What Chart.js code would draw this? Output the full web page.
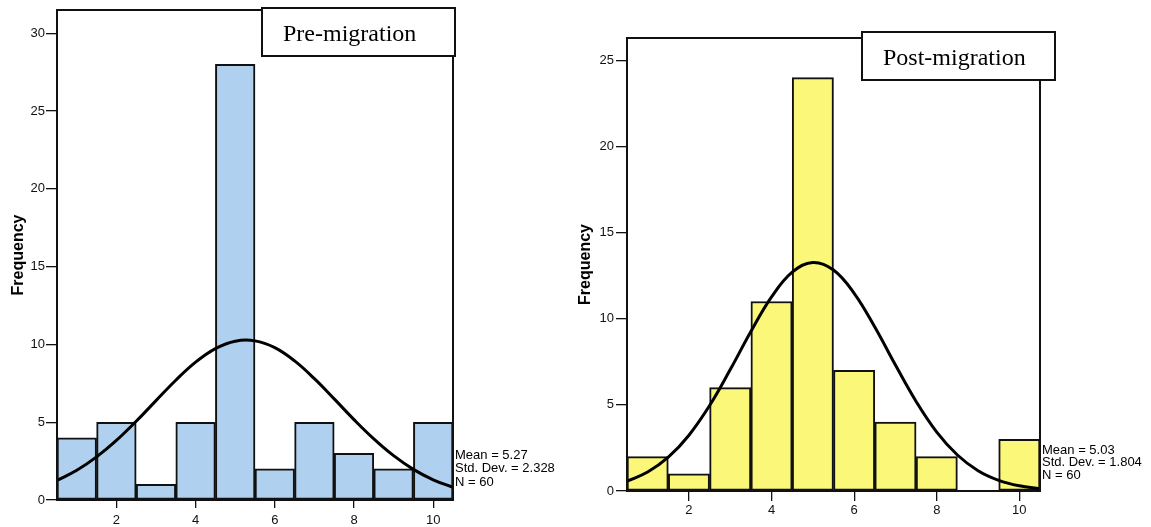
<!DOCTYPE html>
<html>
<head>
<meta charset="utf-8">
<script src="https://cdn.jsdelivr.net/npm/chart.js@4"></script>
<style>
  body { margin: 0; background: #fff; }
  canvas { position: absolute; top: 0; }
</style>
</head>
<body>
<canvas id="preChart" width="560" height="527" style="left:0"></canvas>
<canvas id="postChart" width="591" height="527" style="left:560px"></canvas>
<script>
// histogram bins (width 1, centred on 1..10)
const binCenters = [1, 2, 3, 4, 5, 6, 7, 8, 9, 10];
const preFreq = [4, 5, 1, 5, 28, 2, 5, 3, 2, 5];
const postFreq = [2, 1, 6, 11, 24, 7, 4, 2, 0, 3];

// normal curve every half unit
const curveX = [0.5, 1, 1.5, 2, 2.5, 3, 3.5, 4, 4.5, 5, 5.5, 6, 6.5, 7, 7.5, 8, 8.5, 9, 9.5, 10, 10.5];
const preCurve = [1.26, 1.91, 2.77, 3.83, 5.06, 6.39, 7.7, 8.86, 9.73, 10.21, 10.23, 9.79, 8.94, 7.8, 6.5, 5.17, 3.93, 2.85, 1.97, 1.3, 0.82];
const postCurve = [0.57, 1.1, 1.96, 3.24, 4.96, 7.05, 9.26, 11.27, 12.71, 13.27, 12.83, 11.48, 9.52, 7.31, 5.2, 3.42, 2.09, 1.18, 0.62, 0.3, 0.13];

const xTicks = [2, 4, 6, 8, 10];
const preYTicks = [0, 5, 10, 15, 20, 25, 30];
const postYTicks = [0, 5, 10, 15, 20, 25];

const preStats = ['Mean = 5.27', 'Std. Dev. = 2.328', 'N = 60'];
const postStats = ['Mean = 5.03', 'Std. Dev. = 1.804', 'N = 60'];

const sans = '"Liberation Sans", Arial, sans-serif';
const serif = '"Liberation Serif", "Times New Roman", serif';

// frame round the plot, title box and the stats note
const framePlugin = {
  id: 'frame',
  afterDatasetsDraw(chart) {
    const { ctx, chartArea: a } = chart;
    ctx.save();
    ctx.strokeStyle = '#111';
    ctx.lineWidth = 2;
    ctx.strokeRect(a.left, a.top, a.right - a.left, a.bottom - a.top);
    ctx.restore();
  },
  afterDraw(chart, args, opts) {
    const { ctx, chartArea: a } = chart;
    const b = opts.box;
    ctx.save();
    ctx.fillStyle = '#fff';
    ctx.fillRect(b.x, b.y, b.w, b.h);
    ctx.strokeStyle = '#111';
    ctx.lineWidth = 2;
    ctx.strokeRect(b.x, b.y, b.w, b.h);
    ctx.fillStyle = '#000';
    ctx.font = '24px ' + serif;
    ctx.textBaseline = 'alphabetic';
    ctx.fillText(opts.title, b.x + 21, b.y + 33);
    ctx.font = '13px ' + sans;
    ctx.textBaseline = 'middle';
    opts.stats.forEach((s, i) => ctx.fillText(s, a.right + 2, opts.statsY + i * opts.statsGap));
    ctx.restore();
  }
};

function histogram(id, freq, curve, yTicks, yMax, fill, frame) {
  return new Chart(document.getElementById(id), {
    type: 'bar',
    data: {
      datasets: [
        {
          type: 'line',
          data: curveX.map((x, i) => ({ x, y: curve[i] })),
          borderColor: '#000',
          borderWidth: 3,
          pointRadius: 0,
          tension: 0.4,
          fill: false,
          order: 0
        },
        {
          type: 'bar',
          data: binCenters.map((x, i) => ({ x, y: freq[i] })),
          backgroundColor: fill,
          borderColor: '#111',
          borderWidth: 2,
          borderSkipped: false,
          barPercentage: 1,
          categoryPercentage: 1,
          order: 1
        }
      ]
    },
    options: {
      responsive: false,
      animation: false,
      layout: { padding: frame.padding },
      plugins: {
        legend: { display: false },
        tooltip: { enabled: false },
        frame
      },
      scales: {
        x: {
          type: 'linear',
          min: 0.5,
          max: 10.5,
          offset: false,
          afterFit: s => { s.height = frame.xHeight; },
          afterBuildTicks: s => { s.ticks = xTicks.map(v => ({ value: v })); },
          grid: { offset: false, drawOnChartArea: false, tickLength: frame.tickX, color: '#111', lineWidth: 1.3 },
          border: { display: false },
          ticks: { color: '#111', font: { family: sans, size: 13 }, padding: frame.padX, maxRotation: 0 }
        },
        y: {
          min: 0,
          max: yMax,
          afterFit: s => { s.width = frame.yWidth; },
          afterBuildTicks: s => { s.ticks = yTicks.map(v => ({ value: v })); },
          grid: { drawOnChartArea: false, tickLength: frame.tickY, color: '#111', lineWidth: 1.3 },
          border: { display: false },
          ticks: { color: '#111', font: { family: sans, size: 13 }, padding: frame.padY },
          title: {
            display: true,
            text: 'Frequency',
            color: '#000',
            font: { family: sans, size: 16, weight: 'bold' },
            padding: { top: frame.titlePad, bottom: 0 }
          }
        }
      }
    },
    plugins: [framePlugin]
  });
}

histogram('preChart', preFreq, preCurve, preYTicks, 31.5, 'rgb(175,208,238)', {
  padding: { left: 0, right: 107, top: 10, bottom: 0 },
  xHeight: 27, yWidth: 57, tickX: 8, tickY: 11, padX: 5, padY: 1, titlePad: 9,
  box: { x: 262, y: 8, w: 193, h: 48 },
  title: 'Pre-migration',
  stats: preStats, statsY: 455, statsGap: 13.5
});

histogram('postChart', postFreq, postCurve, postYTicks, 26.3, 'rgb(250,247,121)', {
  padding: { left: 0, right: 111, top: 38, bottom: 0 },
  xHeight: 36, yWidth: 67, tickX: 10, tickY: 11, padX: 2, padY: 2, titlePad: 16,
  box: { x: 302, y: 32, w: 193, h: 48 },
  title: 'Post-migration',
  stats: postStats, statsY: 450, statsGap: 12.5
});
</script>
</body>
</html>
